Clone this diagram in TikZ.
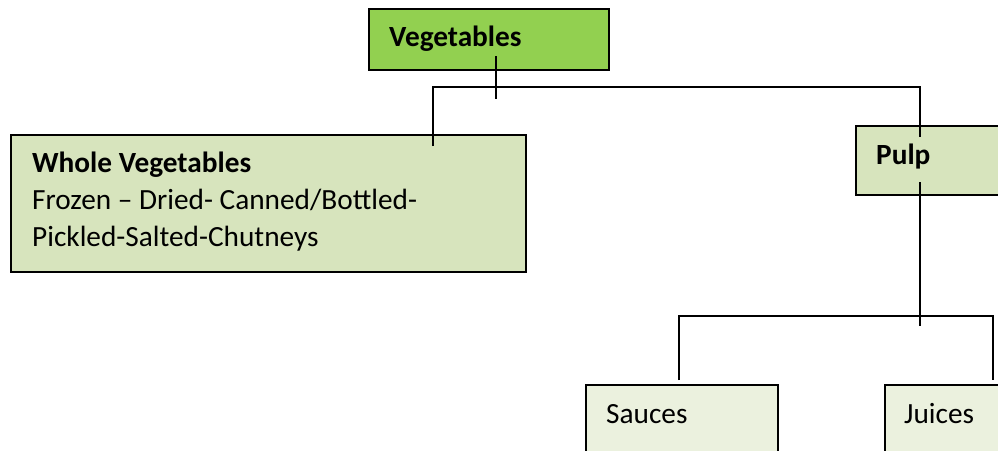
\documentclass[tikz,border=0pt]{standalone}
\usepackage{fontspec}
\setmainfont{Carlito}
\begin{document}
\begin{tikzpicture}[x=1pt,y=-1pt,
  box/.style={draw=black,line width=1.6pt,anchor=north west,inner sep=0pt},
  label/.style={anchor=base west,inner sep=0pt,font=\fontsize{29.3}{34}\selectfont},
  boldlabel/.style={label,font=\fontsize{29.3}{34}\selectfont\bfseries},
  wire/.style={draw=black,line width=1.6pt}]
\definecolor{topgreen}{HTML}{92D050}
\definecolor{midgreen}{HTML}{D7E4BD}
\definecolor{paleg}{HTML}{EBF1DE}
\useasboundingbox (0,0) rectangle (998,450);
\clip (0,0) rectangle (998,450);

% boxes
\node[box,fill=topgreen,minimum width=240pt,minimum height=61pt] (veg) at (368,8) {};
\node[box,fill=midgreen,minimum width=515pt,minimum height=137pt] (whole) at (10,134) {};
\node[box,fill=midgreen,minimum width=160pt,minimum height=69pt] (pulp) at (855,125) {};
\node[box,fill=paleg,minimum width=192pt,minimum height=90pt] (sauces) at (585,384) {};
\node[box,fill=paleg,minimum width=160pt,minimum height=90pt] (juices) at (884,384) {};

% texts
\node[boldlabel] (tveg) at (389,46) {Vegetables};
\node[boldlabel] (twhole) at (32,172) {Whole Vegetables};
\node[label] (twhole2) at (32,209) {Frozen – Dried- Canned/Bottled-};
\node[label] (twhole3) at (32,246) {Pickled-Salted-Chutneys};
\node[boldlabel] (tpulp) at (876,164) {Pulp};
\node[label] (tsauces) at (606,423) {Sauces};
\node[label] (tjuices) at (904,423) {Juices};

% connector end points
\coordinate (v0) at (496,56);
\coordinate (v1) at (496,99);
\coordinate (h0) at (433,87);
\coordinate (h1) at (920,87);
\coordinate (w0) at (433,146);
\coordinate (p0) at (920,137);
\coordinate (p1) at (920,182);
\coordinate (p2) at (920,326);
\coordinate (s0) at (679,316);
\coordinate (s1) at (993,316);
\coordinate (s2) at (679,380);
\coordinate (j2) at (993,380);

\draw[wire] (v0) -- (v1);
\draw[wire] (w0) -- (h0) -- (h1) -- (p0);
\draw[wire] (p1) -- (p2);
\draw[wire] (s2) -- (s0) -- (s1) -- (j2);
\end{tikzpicture}
\end{document}
